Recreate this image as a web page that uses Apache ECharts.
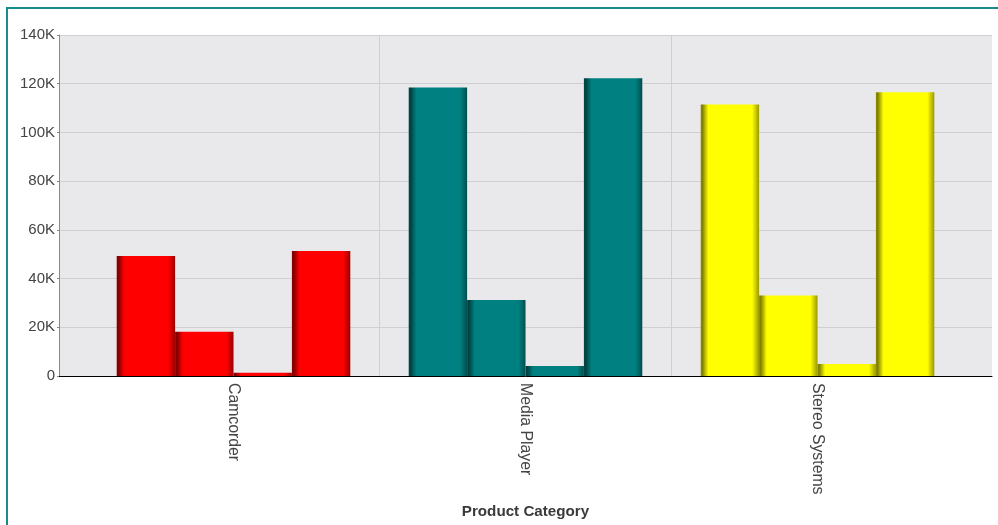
<!DOCTYPE html>
<html>
<head>
<meta charset="utf-8">
<script src="https://cdn.jsdelivr.net/npm/echarts@6/dist/echarts.min.js"></script>
<style>
html,body{margin:0;padding:0;background:#fff;overflow:hidden;}
#frame{position:absolute;left:6px;top:7px;width:1100px;height:700px;border:2px solid #168c8c;box-sizing:border-box;}
#chart{position:absolute;left:0;top:0;width:998px;height:525px;}
</style>
</head>
<body>
<div id="frame"></div>
<div id="chart"></div>
<script>
const categories = ['Camcorder', 'Media Player', 'Stereo Systems'];
const seriesNames = ['Series 1', 'Series 2', 'Series 3', 'Series 4'];
const series1 = [49300, 118400, 111500];
const series2 = [18200, 31200, 33000];
const series3 = [1300, 4100, 4900];
const series4 = [51300, 122200, 116500];
const categoryColors = ['#ff0000', '#008080', '#ffff00'];
const yMin = 0, yMax = 140000, yInterval = 20000;

function shade(hex, f) {
  const n = parseInt(hex.slice(1), 16);
  const r = Math.round(((n >> 16) & 255) * f);
  const g = Math.round(((n >> 8) & 255) * f);
  const b = Math.round((n & 255) * f);
  return 'rgb(' + r + ',' + g + ',' + b + ')';
}
function barColor(params) {
  const c = categoryColors[params.dataIndex];
  return new echarts.graphic.LinearGradient(0, 0, 1, 0, [
    { offset: 0, color: shade(c, 0.55) },
    { offset: 0.03, color: shade(c, 0.5) },
    { offset: 0.13, color: c },
    { offset: 0.88, color: c },
    { offset: 1, color: shade(c, 0.6) }
  ]);
}

const font = "'Liberation Sans', Arial, sans-serif";
const allSeries = [series1, series2, series3, series4].map((d, i) => ({
  name: seriesNames[i],
  type: 'bar',
  xAxisIndex: 1,
  yAxisIndex: 1,
  data: d,
  barGap: '0%',
  barCategoryGap: '20%',
  itemStyle: { color: barColor },
  emphasis: { disabled: true }
}));

const chart = echarts.init(document.getElementById('chart'), null, { renderer: 'canvas' });
chart.setOption({
  animation: false,
  backgroundColor: 'transparent',
  grid: [
    { left: 59, right: 6, top: 35, bottom: 149, show: true, backgroundColor: '#e9e9ec', borderWidth: 0 },
    { left: 87.5, right: 34.5, top: 35, bottom: 149, show: false }
  ],
  xAxis: [
    {
      gridIndex: 0, type: 'value', min: 0, max: 1,
      axisLine: { show: true, lineStyle: { color: '#000', width: 1 } },
      axisTick: { show: false }, axisLabel: { show: false }, splitLine: { show: false },
      name: 'Product Category', nameLocation: 'middle', nameGap: 128,
      nameTextStyle: { fontFamily: font, fontSize: 15.2, fontWeight: 'bold', color: '#3a3a3a' }
    },
    {
      gridIndex: 1, type: 'category', data: categories,
      axisLine: { show: false }, axisTick: { show: false },
      axisLabel: { rotate: -90, margin: 7, fontFamily: font, fontSize: 15.8, color: '#444' },
      splitLine: { show: true, showMinLine: false, showMaxLine: false, lineStyle: { color: '#cfcfd3', width: 1 } }
    }
  ],
  yAxis: [
    {
      gridIndex: 0, type: 'value', min: yMin, max: yMax, interval: yInterval,
      axisLine: { show: true, lineStyle: { color: '#8a8a8a', width: 1 } },
      axisTick: { show: true, length: 2, lineStyle: { color: '#8a8a8a' } },
      axisLabel: { margin: 4, fontFamily: font, fontSize: 15, color: '#444',
        formatter: v => v === 0 ? '0' : (v / 1000) + 'K' },
      splitLine: { show: true, lineStyle: { color: '#cfcfd3', width: 1 } }
    },
    {
      gridIndex: 1, type: 'value', min: yMin, max: yMax, interval: yInterval, show: false,
      splitLine: { show: false }
    }
  ],
  series: allSeries
});
</script>
</body>
</html>
